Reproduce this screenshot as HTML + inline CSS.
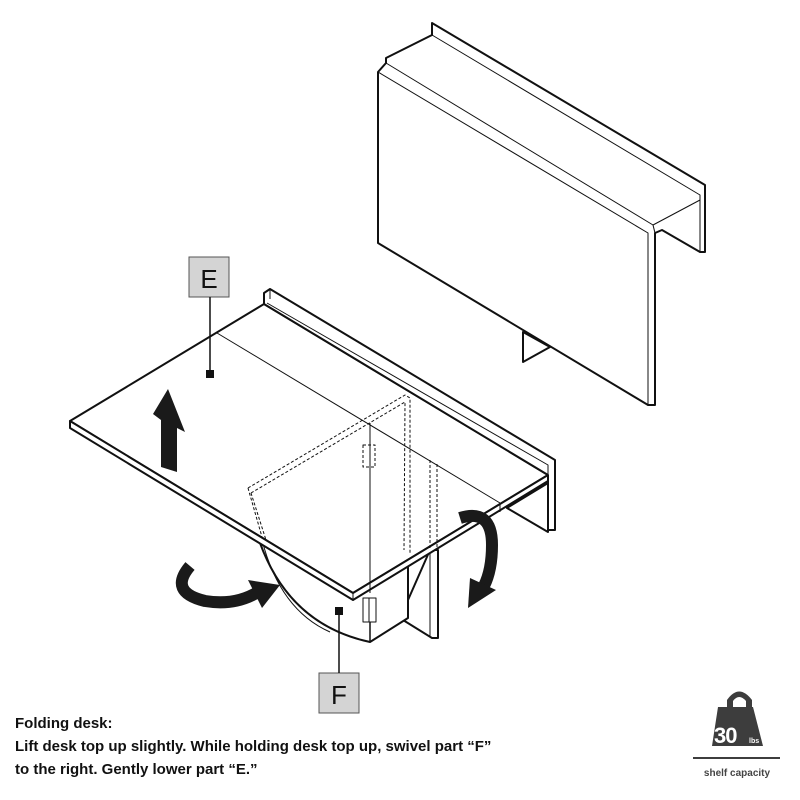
<!DOCTYPE html>
<html><head><meta charset="utf-8"><style>
html,body{margin:0;padding:0;background:#fff;}
body{width:800px;height:800px;position:relative;overflow:hidden;font-family:"Liberation Sans",sans-serif;}
.t{position:absolute;left:15px;font-weight:bold;font-size:15px;color:#111;}
</style></head><body>
<svg width="800" height="800" viewBox="0 0 800 800" style="position:absolute;left:0;top:0">
<g fill="#fff" stroke="#111" stroke-width="2" stroke-linejoin="round">
<polygon points="432,35 432,23 705,185 705,252 700,252 662,230 655,233 655,405 648,405 378,243 378,72 386,63 386,58"/>
<polyline fill="none" stroke-width="1" points="386,63 653,225 700,200"/>
<polyline fill="none" stroke-width="1" points="378,72 648,233 648,405"/>
<polyline fill="none" stroke-width="1" points="432,35 700,195 700,252"/>
<polyline fill="none" stroke-width="1" points="653,225 655,233"/>
<polygon stroke-width="2" points="523,332 523,362 550,347"/>
<polygon points="430,550 438,550 438,638 432,638 403,620 408,600"/>
<line x1="430" y1="550" x2="430" y2="636" stroke-width="1"/>
<path d="M260,543 Q290,625 370,642 L408,618 L408,560 Z"/>
<path d="M262,540 Q280,610 330,632" fill="none" stroke-width="1"/>
<polygon points="507,508 548,483 548,532"/>
<polygon points="70,421 264,304 548,475 353,593"/>
<polygon points="70,421 353,593 548,475 548,481 353,600 70,428"/>
<line x1="353" y1="593" x2="353" y2="600" stroke-width="1"/>
<polygon points="264,304 264,293 270,289 555,460 555,530 548,530 548,475"/>
<polyline fill="none" stroke-width="1" points="267,303 548,465 548,475"/>
<polyline fill="none" stroke-width="1" points="270,289 270,299"/>
<line x1="217" y1="333" x2="500" y2="503" stroke-width="1"/>
<line x1="500" y1="503" x2="500" y2="512" stroke-width="1"/>
<line x1="370" y1="423" x2="370" y2="593" stroke-width="1"/>
<line x1="370" y1="600" x2="370" y2="642" stroke-width="1.5"/>
<g fill="none" stroke-width="1" stroke-dasharray="3,2">
<polyline points="248,488 405,395 410,398 410,553"/>
<polyline points="251,493 405,402 404,550"/>
<polyline points="248,488 262,537"/>
<polyline points="251,493 266,540"/>
<line x1="430" y1="460" x2="430" y2="548"/>
<line x1="437" y1="464" x2="437" y2="548"/>
<rect x="363" y="445" width="12" height="22"/>
</g>
<rect x="363" y="598" width="13" height="24" stroke-width="1"/>
<line x1="369" y1="598" x2="369" y2="622" stroke-width="1"/>
</g>
<rect x="189" y="257" width="40" height="40" fill="#d4d4d4" stroke="#555" stroke-width="1"/>
<text x="209" y="288" font-family="Liberation Sans,sans-serif" font-size="26" text-anchor="middle" fill="#111">E</text>
<line x1="210" y1="297" x2="210" y2="372" stroke="#111" stroke-width="1.5"/>
<rect x="206" y="370" width="8" height="8" fill="#111"/>
<rect x="319" y="673" width="40" height="40" fill="#d4d4d4" stroke="#555" stroke-width="1"/>
<text x="339" y="704" font-family="Liberation Sans,sans-serif" font-size="26" text-anchor="middle" fill="#111">F</text>
<line x1="339" y1="612" x2="339" y2="673" stroke="#111" stroke-width="1.5"/>
<rect x="335" y="607" width="8" height="8" fill="#111"/>
<polygon fill="#1a1a1a" points="168,389 185,432 177,428 177,472 161,467 161,420 153,414"/>
<path d="M190,566 Q168,592 205,601 Q235,606 258,592" fill="none" stroke="#1a1a1a" stroke-width="12"/>
<polygon fill="#1a1a1a" points="248,580 280,585 262,608"/>
<path d="M460,518 Q492,508 492,545 Q492,570 484,586" fill="none" stroke="#1a1a1a" stroke-width="12"/>
<polygon fill="#1a1a1a" points="470,578 496,590 468,608"/>
<path d="M727,708 L727,700 Q739,683 752,700 L752,708 Z M733,708 L733,701 Q739,693 746,701 L746,708 Z" fill="#3d3d3d" fill-rule="evenodd"/>
<polygon points="718,707 753,707 763,746 712,746" fill="#3d3d3d"/>
<text x="714" y="743" font-family="Liberation Sans,sans-serif" font-size="22" font-weight="bold" fill="#fff" letter-spacing="-1">30</text>
<text x="749" y="743" font-family="Liberation Sans,sans-serif" font-size="7" font-weight="bold" fill="#fff">lbs</text>
<line x1="693" y1="758" x2="780" y2="758" stroke="#3d3d3d" stroke-width="2"/>
<text x="737" y="776" font-family="Liberation Sans,sans-serif" font-size="10" font-weight="bold" fill="#444" text-anchor="middle">shelf capacity</text>
</svg>
<div class="t" style="top:715px">Folding desk:</div>
<div class="t" style="top:738px">Lift desk top up slightly. While holding desk top up, swivel part “F”</div>
<div class="t" style="top:761px">to the right. Gently lower part “E.”</div>
</body></html>
